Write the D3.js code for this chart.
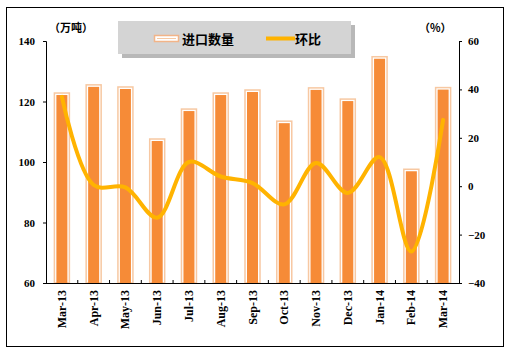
<!DOCTYPE html>
<html>
<head>
<meta charset="utf-8">
<script src="https://cdn.jsdelivr.net/npm/d3@7"></script>
<style>
  body { margin: 0; background: #fff; }
  text { font-family: "Liberation Serif", serif; font-weight: bold; }
  .cjk { font-family: "Noto Sans CJK SC", sans-serif; font-weight: bold; }
</style>
</head>
<body>
<div id="chart"></div>
<script>
// data
const months = ["Mar-13", "Apr-13", "May-13", "Jun-13", "Jul-13", "Aug-13", "Sep-13",
  "Oct-13", "Nov-13", "Dec-13", "Jan-14", "Feb-14", "Mar-14"];
const imports = [122.8, 125.5, 124.8, 107.6, 117.5, 122.8, 123.8, 113.5, 124.5, 120.8, 134.8, 97.6, 124.6];
const mom = [36.9, 0.5, -0.5, -13, 10, 4, 1.3, -7.5, 9.6, -2.8, 12, -27, 27.4];
const leftTicks = [60, 80, 100, 120, 140];
const rightTicks = [-40, -20, 0, 20, 40, 60];

const width = 510, height = 354;
const pLeft = 46, pRight = 459, pTop = 41, pBottom = 283;

let svg = d3.select("#chart").append("svg")
  .attr("width", width)
  .attr("height", height);

// outer frame
svg.append("rect")
  .attr("x", 6.5).attr("y", 7.5)
  .attr("width", 497).attr("height", 339)
  .attr("fill", "#fff").attr("stroke", "#000");

let x = d3.scaleBand().domain(months).range([pLeft, pRight]);
let yL = d3.scaleLinear().domain([60, 140]).range([pBottom, pTop]);
let yR = d3.scaleLinear().domain([-40, 60]).range([pBottom, pTop]);

// bars
const barW = 15;
let bars = svg.append("g");
bars.selectAll("rect.outer")
  .data(imports)
  .enter().append("rect")
  .attr("class", "outer")
  .attr("x", (d, i) => x(months[i]) + x.bandwidth() / 2 - barW / 2)
  .attr("y", d => yL(d))
  .attr("width", barW)
  .attr("height", d => pBottom - yL(d))
  .attr("fill", "#fff")
  .attr("stroke", "#F7C8A2")
  .attr("stroke-width", 1.5);
bars.selectAll("rect.inner")
  .data(imports)
  .enter().append("rect")
  .attr("class", "inner")
  .attr("x", (d, i) => x(months[i]) + x.bandwidth() / 2 - barW / 2 + 2)
  .attr("y", d => yL(d) + 2)
  .attr("width", barW - 4)
  .attr("height", d => pBottom - yL(d) - 2)
  .attr("fill", "#F68B37");

// axes
let axL = svg.append("g")
  .attr("transform", `translate(${pLeft},0)`)
  .call(d3.axisLeft(yL).tickValues(leftTicks).tickSize(3).tickPadding(8));
let axR = svg.append("g")
  .attr("transform", `translate(${pRight},0)`)
  .call(d3.axisRight(yR).tickValues(rightTicks).tickSize(3).tickPadding(6));
[axL, axR].forEach(a => {
  a.select(".domain").attr("stroke", "#000");
  a.selectAll("text").attr("font-size", 11).attr("font-family", "Liberation Serif").attr("font-weight", "bold").attr("fill", "#000");
});

// x axis
svg.append("line")
  .attr("x1", pLeft).attr("x2", pRight)
  .attr("y1", pBottom + 0.5).attr("y2", pBottom + 0.5)
  .attr("stroke", "#000");
svg.append("g").selectAll("line")
  .data(months.slice(1))
  .enter().append("line")
  .attr("x1", d => x(d)).attr("x2", d => x(d))
  .attr("y1", pBottom - 3).attr("y2", pBottom)
  .attr("stroke", "#000");
svg.append("g").selectAll("text")
  .data(months)
  .enter().append("text")
  .attr("transform", d => `translate(${x(d) + x.bandwidth() / 2 + 4},${pBottom + 7}) rotate(-90)`)
  .attr("text-anchor", "end")
  .attr("font-size", 12)
  .text(d => d);

// line
let line = d3.line()
  .x((d, i) => x(months[i]) + x.bandwidth() / 2)
  .y(d => yR(d))
  .curve(d3.curveCatmullRom.alpha(0.5));
svg.append("path")
  .datum(mom)
  .attr("d", line)
  .attr("fill", "none")
  .attr("stroke", "#FFB300")
  .attr("stroke-width", 4)
  .attr("stroke-linecap", "round");

// unit labels
svg.append("text").attr("class", "cjk")
  .attr("x", 49).attr("y", 32).attr("font-size", 11)
  .text("（万吨）");
svg.append("text").attr("class", "cjk")
  .attr("x", 419).attr("y", 32).attr("font-size", 11)
  .text("（%）");

// legend
let lg = svg.append("g");
lg.append("rect")
  .attr("x", 122).attr("y", 25).attr("width", 233).attr("height", 33)
  .attr("fill", "#9a9a9a").attr("opacity", 0.7);
lg.append("rect")
  .attr("x", 118).attr("y", 21).attr("width", 233).attr("height", 33)
  .attr("fill", "#D4D4D4");
lg.append("rect")
  .attr("x", 154.5).attr("y", 35.5).attr("width", 24).attr("height", 6)
  .attr("fill", "#fff").attr("stroke", "#F2B488").attr("stroke-width", 1.5);
lg.append("line")
  .attr("x1", 157).attr("x2", 176).attr("y1", 38.5).attr("y2", 38.5)
  .attr("stroke", "#F7C8A2").attr("stroke-width", 1);
lg.append("text").attr("class", "cjk")
  .attr("x", 182).attr("y", 44).attr("font-size", 13)
  .text("进口数量");
lg.append("line")
  .attr("x1", 266).attr("x2", 295).attr("y1", 38.5).attr("y2", 38.5)
  .attr("stroke", "#FFB300").attr("stroke-width", 4);
lg.append("text").attr("class", "cjk")
  .attr("x", 295).attr("y", 44).attr("font-size", 13)
  .text("环比");
</script>
</body>
</html>
